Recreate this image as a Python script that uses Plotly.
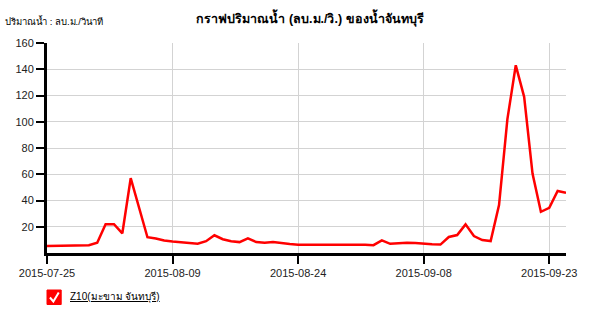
import plotly.graph_objects as go
import pandas as pd

start_date = "2015-07-25"
flow = [5.3, 5.4, 5.5, 5.8, 5.8, 6.0, 7.8, 22, 22, 15, 57, 34.5, 12, 11, 9.5, 8.7,
        8.0, 7.3, 7.0, 9.0, 13.5, 10.5, 9.0, 8.3, 11.2, 8.3, 7.8, 8.3, 7.4, 6.8,
        6.3, 6.3, 6.6, 6.5, 6.6, 6.8, 6.8, 6.7, 6.3, 6.0, 9.6, 7.0, 7.5, 7.8, 7.6,
        7.0, 6.6, 6.4, 12.2, 13.7, 21.8, 12.9, 9.9, 9.1, 36.5, 102, 143, 119, 60.5,
        31.4, 34.4, 47.3, 45.8]
dates = pd.date_range(start_date, periods=len(flow), freq="D")
x_ticks = ["2015-07-25", "2015-08-09", "2015-08-24", "2015-09-08", "2015-09-23"]
y_ticks = [20, 40, 60, 80, 100, 120, 140, 160]
title = "กราฟปริมาณน้ำ (ลบ.ม./วิ.) ของน้ำจันทบุรี"
y_title = "ปริมาณน้ำ : ลบ.ม./วินาที"
series_name = "Z10(มะขาม จันทบุรี)"

font = "Liberation Sans, Arial, sans-serif"
PW, PH = 530, 210

fig = go.Figure()
fig.add_trace(go.Scatter(x=dates, y=flow, mode="lines", name=series_name,
                         line=dict(color="#ff0000", width=2.5), showlegend=False))

fig.update_layout(
    width=589, height=310,
    margin=dict(l=47, r=12, t=43, b=57),
    paper_bgcolor="white", plot_bgcolor="white",
    font=dict(family=font, size=11, color="#000"),
    title=dict(text="<b>" + title + "</b>", x=310 / 589, xanchor="center",
               y=1 - 18.5 / 310, yanchor="middle", font=dict(size=12.5, color="#000")),
    xaxis=dict(range=[dates[0], dates[-1]], tickvals=x_ticks, ticktext=x_ticks,
               showgrid=True, gridcolor="#d3d3d3", gridwidth=1,
               showline=True, linecolor="#000", linewidth=3,
               ticks="outside", ticklen=8, tickwidth=1.5, tickcolor="#000",
               zeroline=False, tickfont=dict(size=11, color="#222")),
    yaxis=dict(range=[0, 160], tickvals=y_ticks, showgrid=True, gridcolor="#d3d3d3",
               gridwidth=1, showline=True, linecolor="#000", linewidth=3,
               ticks="outside", ticklen=8, tickwidth=1.5, tickcolor="#000",
               zeroline=False, tickfont=dict(size=11, color="#222")),
)

fig.add_annotation(text=y_title, xref="paper", yref="paper", x=-45 / PW, y=1 + 22 / PH,
                   xanchor="left", yanchor="middle", showarrow=False,
                   font=dict(size=9.5, color="#000"))

# legend-like checkbox
fig.add_shape(type="rect", xref="paper", yref="paper",
              x0=0, x1=14.5 / PW, y0=-51.5 / PH, y1=-37 / PH,
              fillcolor="#ff0000", line=dict(color="#ff0000", width=1))
fig.add_shape(type="path", xref="paper", yref="paper",
              path=f"M {3 / PW} {-44.5 / PH} L {6.5 / PW} {-48.5 / PH} L {12 / PW} {-39.5 / PH}",
              line=dict(color="white", width=2))
fig.add_annotation(text="<u>" + series_name + "</u>", xref="paper", yref="paper",
                   x=21 / PW, y=-44 / PH, xanchor="left", yanchor="middle",
                   showarrow=False, font=dict(size=10, color="#000"))

fig.write_html("out.html")
